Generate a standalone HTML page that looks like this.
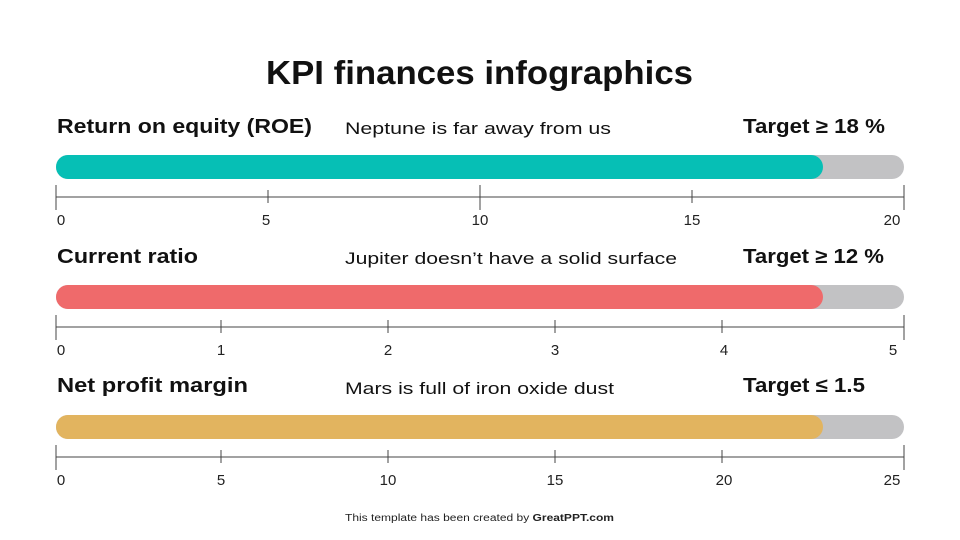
<!DOCTYPE html>
<html><head><meta charset="utf-8"><style>
body{margin:0;background:#fff}
svg{display:block;font-family:"Liberation Sans",sans-serif}
</style></head><body>
<svg width="960" height="540" viewBox="0 0 960 540">
<text x="266" y="84" font-size="33" font-weight="bold" fill="#111" textLength="427" lengthAdjust="spacingAndGlyphs">KPI finances infographics</text>

<g>
<text x="57" y="133" font-size="20" font-weight="bold" fill="#111" textLength="255" lengthAdjust="spacingAndGlyphs">Return on equity (ROE)</text>
<text x="345" y="134" font-size="17" fill="#111" textLength="266" lengthAdjust="spacingAndGlyphs">Neptune is far away from us</text>
<text x="743" y="133" font-size="20" font-weight="bold" fill="#111" textLength="142" lengthAdjust="spacingAndGlyphs">Target ≥ 18 %</text>
<rect x="56" y="155" width="848" height="24" rx="12" fill="#c2c2c4"/>
<rect x="56" y="155" width="767" height="24" rx="12" fill="#06bfb5"/>
<g stroke="#444" stroke-width="1">
<line x1="56" y1="197" x2="904" y2="197"/>
<line x1="56" y1="185" x2="56" y2="210"/><line x1="904" y1="185" x2="904" y2="210"/>
<line x1="268" y1="190" x2="268" y2="203"/><line x1="480" y1="185" x2="480" y2="210"/><line x1="692" y1="190" x2="692" y2="203"/>
</g>
<g font-size="15" fill="#222" text-anchor="middle">
<text x="61" y="225">0</text><text x="266" y="225">5</text><text x="480" y="225">10</text><text x="692" y="225">15</text><text x="892" y="225">20</text>
</g>
</g>

<g>
<text x="57" y="263" font-size="20" font-weight="bold" fill="#111" textLength="141" lengthAdjust="spacingAndGlyphs">Current ratio</text>
<text x="345" y="264" font-size="17" fill="#111" textLength="332" lengthAdjust="spacingAndGlyphs">Jupiter doesn’t have a solid surface</text>
<text x="743" y="263" font-size="20" font-weight="bold" fill="#111" textLength="141" lengthAdjust="spacingAndGlyphs">Target ≥ 12 %</text>
<rect x="56" y="285" width="848" height="24" rx="12" fill="#c2c2c4"/>
<rect x="56" y="285" width="767" height="24" rx="12" fill="#ef6a6b"/>
<g stroke="#444" stroke-width="1">
<line x1="56" y1="327" x2="904" y2="327"/>
<line x1="56" y1="315" x2="56" y2="340"/><line x1="904" y1="315" x2="904" y2="340"/>
<line x1="221" y1="320" x2="221" y2="333"/><line x1="388" y1="320" x2="388" y2="333"/><line x1="555" y1="320" x2="555" y2="333"/><line x1="722" y1="320" x2="722" y2="333"/>
</g>
<g font-size="15" fill="#222" text-anchor="middle">
<text x="61" y="355">0</text><text x="221" y="355">1</text><text x="388" y="355">2</text><text x="555" y="355">3</text><text x="724" y="355">4</text><text x="893" y="355">5</text>
</g>
</g>

<g>
<text x="57" y="392" font-size="20" font-weight="bold" fill="#111" textLength="191" lengthAdjust="spacingAndGlyphs">Net profit margin</text>
<text x="345" y="394" font-size="17" fill="#111" textLength="269" lengthAdjust="spacingAndGlyphs">Mars is full of iron oxide dust</text>
<text x="743" y="392" font-size="20" font-weight="bold" fill="#111" textLength="122" lengthAdjust="spacingAndGlyphs">Target ≤ 1.5</text>
<rect x="56" y="415" width="848" height="24" rx="12" fill="#c2c2c4"/>
<rect x="56" y="415" width="767" height="24" rx="12" fill="#e2b45f"/>
<g stroke="#444" stroke-width="1">
<line x1="56" y1="457" x2="904" y2="457"/>
<line x1="56" y1="445" x2="56" y2="470"/><line x1="904" y1="445" x2="904" y2="470"/>
<line x1="221" y1="450" x2="221" y2="463"/><line x1="388" y1="450" x2="388" y2="463"/><line x1="555" y1="450" x2="555" y2="463"/><line x1="722" y1="450" x2="722" y2="463"/>
</g>
<g font-size="15" fill="#222" text-anchor="middle">
<text x="61" y="485">0</text><text x="221" y="485">5</text><text x="388" y="485">10</text><text x="555" y="485">15</text><text x="724" y="485">20</text><text x="892" y="485">25</text>
</g>
</g>

<text x="345" y="521" font-size="10" fill="#222" textLength="269" lengthAdjust="spacingAndGlyphs">This template has been created by <tspan font-weight="bold">GreatPPT.com</tspan></text>
</svg>
</body></html>
